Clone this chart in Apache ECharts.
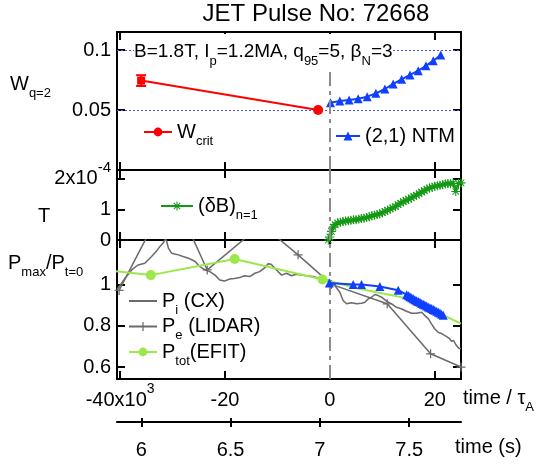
<!DOCTYPE html>
<html>
<head>
<meta charset="utf-8">
<script src="https://cdn.jsdelivr.net/npm/echarts@6/dist/echarts.min.js"></script>
<style>
  html, body { margin: 0; padding: 0; background: #fff; }
  #chart { width: 542px; height: 467px; }
</style>
</head>
<body>
<div id="chart"></div>
<script>
// x values are in units of 10^3 tau_A
const tauTicks = [-40, -20, 0, 20];
const secTicks = [6, 6.5, 7, 7.5];

// panel 1: island width at q=2
const wcritX = [-36.0, -2.25];
const wcritY = [0.0745, 0.05];
const wcritErr = [0.0045, 0];
const ntmX = [0.11, 1.89, 3.67, 5.39, 7.11, 8.77, 10.48, 12.07, 13.68, 15.27, 16.85, 18.32, 19.71, 21.13];
const ntmY = [0.0561, 0.0575, 0.0583, 0.0594, 0.0611, 0.0639, 0.0675, 0.0717, 0.0756, 0.0792, 0.0828, 0.0869, 0.0911, 0.0958];

// panel 2: (dB)n=1 in 10^-4 T
const dbX = [-0.3, 0.0, 0.3, 0.6, 1.0, 1.5, 2.0, 2.5, 3.0, 3.5, 4.0, 4.5, 5.0, 5.5, 6.0, 6.5, 7.0, 7.5, 8.0, 8.5, 9.0, 9.5, 10.0, 10.5, 11.0, 11.5, 12.0, 12.5, 13.0, 13.5, 14.0, 14.5, 15.0, 15.5, 16.0, 16.5, 17.0, 17.5, 18.0, 18.5, 19.0, 19.5, 20.0, 20.5, 21.0, 21.5, 22.0, 22.5, 23.0, 23.5, 24.0, 24.5, 25.0];
const dbY = [0.0, 0.1, 0.28, 0.42, 0.5, 0.56, 0.58, 0.6, 0.62, 0.63, 0.64, 0.66, 0.66, 0.68, 0.7, 0.71, 0.73, 0.76, 0.79, 0.81, 0.83, 0.85, 0.89, 0.93, 0.97, 1.01, 1.05, 1.09, 1.15, 1.2, 1.25, 1.29, 1.33, 1.37, 1.42, 1.46, 1.51, 1.56, 1.61, 1.66, 1.69, 1.72, 1.75, 1.77, 1.78, 1.8, 1.83, 1.84, 1.83, 1.85, 1.58, 1.84, 1.86];

// panel 3: normalised pressures
const piX = [-40.6, -40.4, -39.1, -37.8, -36.6, -35.3, -34.0, -33.1, -32.4, -31.8, -31.3, -30.8, -30.2, -28.9, -28.0, -27.0, -25.7, -24.8, -23.8, -22.9, -21.9, -21.0, -20.1, -19.1, -18.2, -17.2, -16.3, -15.3, -14.3, -13.4, -12.4, -11.8, -11.2, -10.5, -9.9, -9.2, -8.3, -7.3, -6.4, -5.4, -4.5, -3.2, -1.9, -1.0, 0, 0.94, 1.89, 2.52, 3.17, 4.13, 5.08, 6.04, 6.67, 7.3, 7.95, 8.58, 9.21, 9.86, 10.8, 11.77, 12.7, 13.7, 14.6, 15.6, 16.5, 17.5, 18.1, 18.8, 19.4, 20.0, 20.7, 21.3, 22.1, 22.7, 23.2, 23.6, 24.1, 24.6, 25.0];
const piY = [0.975, 0.983, 1.029, 1.07, 1.094, 1.102, 1.135, 1.16, 1.184, 1.2, 1.225, 1.176, 1.151, 1.143, 1.135, 1.127, 1.111, 1.086, 1.07, 1.062, 1.045, 1.021, 1.016, 1.026, 1.029, 1.033, 1.042, 1.038, 1.054, 1.062, 1.081, 1.1, 1.098, 1.078, 1.062, 1.045, 1.054, 1.042, 1.049, 1.045, 1.042, 1.038, 1.029, 1.021, 1.02, 0.995, 0.962, 0.922, 0.906, 0.911, 0.906, 0.909, 0.914, 0.93, 0.938, 0.951, 0.946, 0.938, 0.919, 0.906, 0.889, 0.881, 0.87, 0.86, 0.86, 0.865, 0.849, 0.833, 0.808, 0.784, 0.767, 0.762, 0.75, 0.74, 0.725, 0.728, 0.705, 0.69, 0.69];
const peX = [-40.2, -30.3, -23.4, -13.0, -6.07, 0.3, 10.93, 19.2, 25.0];
const peY = [0.971, 1.455, 1.07, 1.29, 1.143, 1.0, 0.906, 0.664, 0.6];
const ptotX = [-42, -34.15, -18.17, -1.42, 5.7, 8.9, 15.26, 20.0, 22.1, 25.0];
const ptotY = [1.067, 1.045, 1.123, 1.024, 0.979, 0.962, 0.93, 0.875, 0.845, 0.81];
const ptotMarked = 4; // EFIT markers only on the first points
const ntmPX = [-0.1, 4.44, 6.03, 9.53, 13.03, 14.63, 15.0, 15.26, 15.6, 15.9, 16.2, 16.54, 16.85, 17.17, 17.5, 17.8, 18.1, 18.45, 18.75, 19.08, 19.4, 19.71, 20.0, 20.36, 20.7, 20.99, 21.3, 21.62];
const ntmPY = [1.007, 0.999, 1.0, 0.99, 0.972, 0.95, 0.945, 0.94, 0.935, 0.93, 0.926, 0.921, 0.917, 0.913, 0.908, 0.904, 0.9, 0.896, 0.891, 0.887, 0.883, 0.879, 0.875, 0.87, 0.865, 0.861, 0.856, 0.851];

const FONT = 'Liberation Sans';
const zip = (xs, ys) => xs.map((x, i) => [x, ys[i]]);
const BLUE = '#1040ff';
const PLUS = 'path://M4.3,0H5.7V4.3H10V5.7H5.7V10H4.3V5.7H0V4.3H4.3Z';
const ASTER = 'path://M4.4,0H5.6V10H4.4Z M0,4.4H10V5.6H0Z M1,1.8L1.8,1L9,8.2L8.2,9Z M8.2,1L9,1.8L1.8,9L1,8.2Z';

const tauMin = -40.6, tauMax = 25;
const lineBlack = { color: '#000', width: 2 };

function xFrame(grid, pos, withLabels) {
  return {
    type: 'value', gridIndex: grid, position: pos, min: tauMin, max: tauMax,
    axisLine: { onZero: false, lineStyle: lineBlack },
    axisTick: { inside: true, length: 8, customValues: tauTicks, lineStyle: lineBlack },
    axisLabel: withLabels ? {
      customValues: tauTicks, margin: 1,
      formatter: v => v === -40 ? '{n|-40x10}{sup|3}' : '{n|' + v + '}',
      rich: {
        n: { fontSize: 20, fontFamily: FONT, color: '#000', lineHeight: 40 },
        sup: { fontSize: 14, fontFamily: FONT, color: '#000', padding: [0, 0, 21, 0] }
      }
    } : { show: false },
    splitLine: { show: false }
  };
}

function yFrame(grid, pos, min, max, ticks, labelOpt) {
  return {
    type: 'value', gridIndex: grid, position: pos, min: min, max: max,
    axisLine: { onZero: false, lineStyle: lineBlack },
    axisTick: { inside: true, length: 8, customValues: ticks, lineStyle: lineBlack },
    axisLabel: labelOpt ? Object.assign({ customValues: ticks, margin: 6, fontSize: 20, fontFamily: FONT, color: '#000' }, labelOpt) : { show: false },
    splitLine: { show: false }
  };
}

const dashZero = { xAxis: 0, lineStyle: { color: '#8c8c8c', width: 2, type: [14, 5, 4, 5] } };
const markBase = { silent: true, symbol: 'none', label: { show: false }, animation: false };

const legendNames = {
  Wcrit: '{n|W}{s|crit}',
  NTM: '{n|(2,1) NTM}',
  dB: '{n|(δB)}{s|n=1}',
  Pi: '{n|P}{s|i}{n| (CX)}',
  Pe: '{n|P}{s|e}{n| (LIDAR)}',
  Ptot: '{n|P}{s|tot}{n|(EFIT)}'
};
const legendText = {
  rich: {
    n: { fontSize: 20, fontFamily: FONT, color: '#000', lineHeight: 34 },
    s: { fontSize: 13, fontFamily: FONT, color: '#000', padding: [18, 0, 0, 0] }
  }
};
function legendAt(names, left, top, itemWidth, extra) {
  return Object.assign({
    data: names, left: left, top: top, padding: 0, itemWidth: itemWidth, itemHeight: 11,
    selectedMode: false, formatter: n => legendNames[n], textStyle: legendText
  }, extra || {});
}

const subRich = (size, pad) => ({
  n: { fontSize: size, fontFamily: FONT, fill: '#000', lineHeight: 36 },
  s: { fontSize: 13, fontFamily: FONT, fill: '#000', padding: [pad, 0, 0, 0] }
});
function label(x, y, text, size, pad, extra) {
  return {
    type: 'text', x: x, y: y, z: 100,
    style: Object.assign({ text: text, rich: subRich(size, pad), align: 'left', verticalAlign: 'middle' }, extra || {})
  };
}

const chart = echarts.init(document.getElementById('chart'), null, { renderer: 'canvas' });
chart.setOption({
  animation: false,
  backgroundColor: '#fff',
  grid: [
    { left: 117, right: 81, top: 32, height: 138, outerBoundsMode: 'none' },
    { left: 117, right: 81, top: 170, height: 70, outerBoundsMode: 'none' },
    { left: 117, right: 81, top: 240, height: 139, outerBoundsMode: 'none' },
    { left: 117, right: 81, top: 418, height: 4, outerBoundsMode: 'none' }
  ],
  xAxis: [
    xFrame(0, 'bottom', false), xFrame(0, 'top', false),
    xFrame(1, 'bottom', false), xFrame(1, 'top', false),
    xFrame(2, 'bottom', true), xFrame(2, 'top', false),
    {
      type: 'value', gridIndex: 3, position: 'bottom', min: 5.864, max: 7.79,
      axisLine: { onZero: false, lineStyle: lineBlack },
      axisTick: { inside: false, length: 5, customValues: secTicks, lineStyle: lineBlack },
      axisLabel: { customValues: secTicks, margin: 18, fontSize: 20, fontFamily: FONT, color: '#000' },
      splitLine: { show: false }
    },
    {
      type: 'value', gridIndex: 3, position: 'bottom', min: 5.864, max: 7.79,
      axisLine: { show: false },
      axisTick: { inside: true, length: 4, customValues: secTicks, lineStyle: lineBlack },
      axisLabel: { show: false }, splitLine: { show: false }
    }
  ],
  yAxis: [
    yFrame(0, 'left', 0, 0.115, [0.05, 0.1], {}), yFrame(0, 'right', 0, 0.115, [0.05, 0.1], null),
    yFrame(1, 'left', 0, 2.28, [0, 1, 2], {
      formatter: v => v === 2 ? '{n|2x10}{sup|-4}' : '{n|' + v + '}',
      rich: {
        n: { fontSize: 20, fontFamily: FONT, color: '#000', lineHeight: 40 },
        sup: { fontSize: 15, fontFamily: FONT, color: '#000', padding: [0, 0, 22, 0] }
      }
    }),
    yFrame(1, 'right', 0, 2.28, [0, 1, 2], null),
    yFrame(2, 'left', 0.542, 1.215, [0.6, 0.8, 1], {}), yFrame(2, 'right', 0.542, 1.215, [0.6, 0.8, 1], null),
    { type: 'value', gridIndex: 3, min: 0, max: 1, show: false }
  ],
  legend: [
    legendAt(['Wcrit'], 143, 122, 28),
    legendAt(['NTM'], 335, 126, 24),
    legendAt(['dB'], 160, 196, 32),
    legendAt([{ name: 'Pi', itemStyle: { opacity: 0 } }, 'Pe', 'Ptot'], 128, 291, 28, { orient: 'vertical', itemGap: 0 })
  ],
  graphic: [
    { type: 'text', x: 316, y: 14, z: 100, style: { text: 'JET Pulse No: 72668', fontSize: 24, fontFamily: FONT, fill: '#000', align: 'center', verticalAlign: 'middle' } },
    label(134, 52, '{n|B=1.8T, I}{s|p}{n|=1.2MA, q}{s|95}{n|=5, β}{s|N}{n|=3}', 19, 18, { backgroundColor: '#fff' }),
    label(10, 84, '{n|W}{s|q=2}', 20, 18),
    label(38, 216, '{n|T}', 20, 0),
    label(8, 263, '{n|P}{s|max}{n|/P}{s|t=0}', 20, 18),
    label(463, 398, '{n|time / τ}{s|A}', 20, 18),
    label(455, 447, '{n|time (s)}', 20, 0)
  ],
  series: [
    {
      name: 'Wcrit', type: 'line', xAxisIndex: 0, yAxisIndex: 0, z: 5,
      data: zip(wcritX, wcritY).map((d, i) => i === 0 ? { value: d, symbol: 'rect', symbolSize: 8 } : d),
      symbol: 'circle', symbolSize: 10, color: '#ff0000', lineStyle: { width: 2 }
    },
    {
      type: 'custom', xAxisIndex: 0, yAxisIndex: 0, z: 5,
      data: wcritX.map((x, i) => [x, wcritY[i] - wcritErr[i], wcritY[i] + wcritErr[i]]).filter(d => d[2] > d[1]),
      renderItem: (params, api) => {
        const lo = api.coord([api.value(0), api.value(1)]);
        const hi = api.coord([api.value(0), api.value(2)]);
        const st = { stroke: '#ff0000', lineWidth: 2 };
        return {
          type: 'group', children: [
            { type: 'line', shape: { x1: lo[0], y1: lo[1], x2: hi[0], y2: hi[1] }, style: st },
            { type: 'line', shape: { x1: lo[0] - 5, y1: lo[1], x2: lo[0] + 5, y2: lo[1] }, style: st },
            { type: 'line', shape: { x1: hi[0] - 5, y1: hi[1], x2: hi[0] + 5, y2: hi[1] }, style: st }
          ]
        };
      }
    },
    {
      name: 'NTM', type: 'line', xAxisIndex: 0, yAxisIndex: 0, z: 4,
      data: zip(ntmX, ntmY), symbol: 'triangle', symbolSize: 9, color: BLUE, lineStyle: { width: 2 },
      markLine: Object.assign({}, markBase, {
        data: [
          { yAxis: 0.1, lineStyle: { color: '#4a4aff', width: 1, type: [2, 2] } },
          { yAxis: 0.05, lineStyle: { color: '#4a4aff', width: 1, type: [2, 2] } },
          dashZero
        ]
      })
    },
    {
      name: 'dB', type: 'line', xAxisIndex: 2, yAxisIndex: 2, z: 4,
      data: zip(dbX, dbY), symbol: ASTER, symbolSize: 9, color: '#139913', lineStyle: { width: 2 },
      markLine: Object.assign({}, markBase, { data: [dashZero] })
    },
    {
      name: 'Pi', type: 'line', xAxisIndex: 4, yAxisIndex: 4, z: 3,
      data: zip(piX, piY), symbol: 'none', color: '#6a6a6a', lineStyle: { width: 1.5 },
      markLine: Object.assign({}, markBase, { data: [dashZero] })
    },
    {
      name: 'Pe', type: 'line', xAxisIndex: 4, yAxisIndex: 4, z: 3,
      data: zip(peX, peY), symbol: PLUS, symbolSize: 9, color: '#6a6a6a', lineStyle: { width: 1.5 }
    },
    {
      name: 'Ptot', type: 'line', xAxisIndex: 4, yAxisIndex: 4, z: 4,
      data: zip(ptotX, ptotY).map((d, i) => i < ptotMarked ? d : { value: d, symbol: 'none' }),
      symbol: 'circle', symbolSize: 10, color: '#9be84a', lineStyle: { width: 2 }
    },
    {
      name: 'NTMp', type: 'line', xAxisIndex: 4, yAxisIndex: 4, z: 5,
      data: zip(ntmPX, ntmPY), symbol: 'triangle', symbolSize: 9, color: BLUE, lineStyle: { width: 2 }
    }
  ]
});
</script>
</body>
</html>
